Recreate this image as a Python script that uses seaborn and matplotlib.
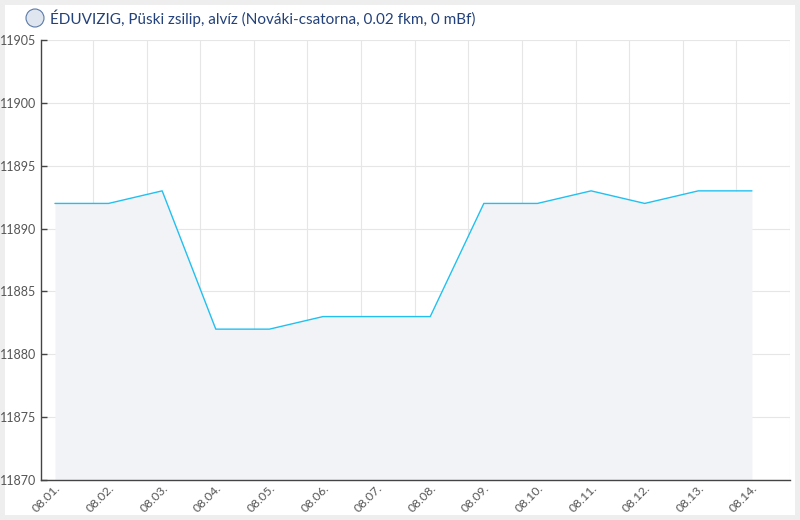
import matplotlib
matplotlib.use('Agg')
import numpy as np
import pandas as pd
import matplotlib.pyplot as plt
import seaborn as sns
from matplotlib.patches import Rectangle, Circle

# Adatok: Püski zsilip, alvíz napi értékei
napok = ['08.01.', '08.02.', '08.03.', '08.04.', '08.05.', '08.06.', '08.07.',
         '08.08.', '08.09.', '08.10.', '08.11.', '08.12.', '08.13.', '08.14.']
vizszint = [11892, 11892, 11893, 11882, 11882, 11883, 11883,
            11883, 11892, 11892, 11893, 11892, 11893, 11893]
y_tickek = [11870, 11875, 11880, 11885, 11890, 11895, 11900, 11905]
cim = 'ÉDUVIZIG, Püski zsilip, alvíz (Nováki-csatorna, 0.02 fkm, 0 mBf)'

df = pd.DataFrame({'nap': np.arange(len(napok)), 'szint': vizszint})

sns.set_theme(style="white")
plt.rcParams['font.family'] = ['Lato', 'DejaVu Sans']

fig = plt.figure(figsize=(8, 5.2), dpi=100)
fig.patch.set_facecolor('#eeeeee')
fig.patches.append(Rectangle((5 / 800, 5 / 520), 790 / 800, 510 / 520,
                             transform=fig.transFigure, facecolor='white',
                             edgecolor='none', zorder=-5))

ax = fig.add_axes([41 / 800, 40 / 520, 749 / 800, 440 / 520])
ax.set_facecolor('none')

ax.fill_between(df['nap'], df['szint'], y_tickek[0], color='#f2f3f7', lw=0, zorder=1)
sns.lineplot(data=df, x='nap', y='szint', ax=ax, color='#22c0ef', lw=1, zorder=3)

ax.set_xlim(-0.26, 13.71)
ax.set_ylim(y_tickek[0], y_tickek[-1])

# rácsvonalak / tick jelek a napok között, feliratok a mérési pontoknál
ax.set_xticks(np.arange(len(napok)) + 0.71)
ax.set_xticklabels([])
ax.set_xticks(df['nap'], minor=True)
ax.set_xticklabels(napok, minor=True, rotation=45, ha='right', va='top',
                   rotation_mode='anchor', fontsize=8.8, color='#555555')
ax.set_yticks(y_tickek)
ax.set_yticklabels([str(v) for v in y_tickek], fontsize=9, color='#555555')

ax.tick_params(axis='x', which='major', direction='in', length=4, width=1, color='#444444')
ax.tick_params(axis='x', which='minor', length=0, pad=2)
ax.tick_params(axis='y', direction='in', length=4, width=1, color='#444444', pad=3.5, left=True)

ax.grid(True, which='major', color='#e6e6e6', lw=0.8, zorder=0)
ax.set_axisbelow(True)
for s in ['top', 'right']:
    ax.spines[s].set_visible(False)
for s in ['left', 'bottom']:
    ax.spines[s].set_color('#444444')
    ax.spines[s].set_linewidth(1)
ax.set_xlabel('')
ax.set_ylabel('')

# logó és cím
fig.patches.append(Circle((35 / 100, (520 - 18) / 100), 0.09, transform=fig.dpi_scale_trans,
                          facecolor='#dfe6ef', edgecolor='#5a7aa8', lw=0.8))
fig.text(50 / 800, 1 - 18 / 520, cim, fontsize=11, color='#23417a', va='center', ha='left')

fig.savefig('out.png', dpi=100, facecolor=fig.get_facecolor())
